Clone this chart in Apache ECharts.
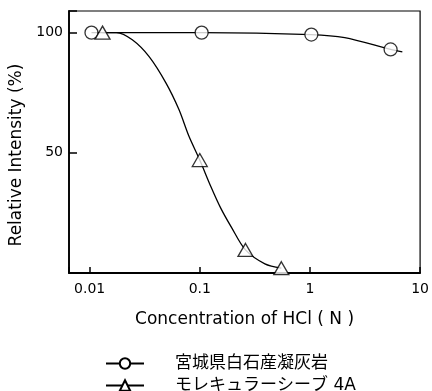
<!DOCTYPE html>
<html>
<head>
<meta charset="utf-8">
<script src="https://cdn.jsdelivr.net/npm/echarts@6/dist/echarts.min.js"></script>
<style>
  html, body { margin: 0; padding: 0; background: #fff; }
  #chart { width: 432px; height: 391px; }
</style>
</head>
<body>
<div id="chart"></div>
<script>
  // 測定点 (HCl 濃度 N, 相対強度 %)
  var tuffName = '宮城県白石産凝灰岩'
  var sieveName = 'モレキュラーシーブ 4A'
  var tuffPoints = [[0.0104, 100], [0.104, 100], [1.03, 99.2], [5.4, 93]]
  var sievePoints = [[0.0131, 100], [0.1, 47], [0.26, 9.6], [0.55, 2]]
  // 図から読んだ曲線
  var tuffCurve = [[0.0104, 100], [0.104, 100], [1.03, 99.2], [2.07, 97.9], [5.4, 93], [6.9, 92]]
  var sieveCurve = [[0.0131, 100], [0.0175, 100], [0.0244, 97], [0.0347, 90], [0.0494, 79],
    [0.0647, 68], [0.0796, 57], [0.1, 47], [0.126, 36], [0.155, 27], [0.194, 19],
    [0.26, 9.6], [0.39, 3.8], [0.55, 2]]
  var xTickLabels = ['0.01', '0.1', '1', '10']
  var yTickLabels = [50, 100]

  var font = "'DejaVu Sans', 'Noto Sans CJK JP', sans-serif"
  var markerStyle = { color: '#fff', borderColor: '#000', borderWidth: 1.3 }

  function legendBox(name, top) {
    return {
      data: [name],
      orient: 'vertical',
      left: 100,
      top: top,
      itemWidth: 38,
      itemHeight: 13,
      textStyle: { fontSize: 17, color: '#000', padding: [0, 0, 0, 26] }
    }
  }

  var chart = echarts.init(document.getElementById('chart'))
  chart.setOption({
    animation: false,
    textStyle: { fontFamily: font, color: '#000' },
    grid: {
      left: 69, right: 8, top: 11, bottom: 118,
      show: true, borderColor: '#000', borderWidth: 1.2
    },
    legend: [legendBox(tuffName, 350), legendBox(sieveName, 372)],
    xAxis: {
      type: 'log',
      logBase: 10,
      min: 0.0065,
      max: 10,
      name: 'Concentration of HCl ( N )',
      nameLocation: 'middle',
      nameGap: 38,
      nameTextStyle: { fontSize: 17, color: '#000' },
      axisLine: { lineStyle: { color: '#000', width: 1.8 } },
      axisTick: { inside: true, length: 6, lineStyle: { color: '#000', width: 1.5 } },
      splitLine: { show: false },
      axisLabel: {
        fontSize: 14, color: '#000', margin: 9,
        formatter: function (v) {
          var l = Math.log10(v)
          if (Math.abs(l - Math.round(l)) > 1e-6) return ''
          return xTickLabels[Math.round(l) + 2] || ''
        }
      }
    },
    yAxis: {
      type: 'value',
      min: 0,
      max: 109,
      interval: 50,
      name: 'Relative Intensity (%)',
      nameLocation: 'middle',
      nameGap: 40,
      nameTextStyle: { fontSize: 17, color: '#000', padding: [0, 0, 0, -26] },
      axisLine: { lineStyle: { color: '#000', width: 1.8 } },
      axisTick: { inside: true, length: 8, lineStyle: { color: '#000', width: 1.5 } },
      splitLine: { show: false },
      axisLabel: {
        fontSize: 14, color: '#000', margin: 6,
        formatter: function (v) {
          return yTickLabels.indexOf(v) >= 0 ? String(v) : ''
        }
      }
    },
    series: [
      {
        name: tuffName,
        type: 'line',
        data: tuffCurve,
        smooth: 0.3,
        symbol: 'circle',
        symbolSize: 12,
        showSymbol: false,
        lineStyle: { color: '#000', width: 1.3 },
        itemStyle: markerStyle,
        z: 2
      },
      {
        name: sieveName,
        type: 'line',
        data: sieveCurve,
        smooth: 0.3,
        symbol: 'triangle',
        symbolSize: 13,
        showSymbol: false,
        lineStyle: { color: '#000', width: 1.3 },
        itemStyle: markerStyle,
        z: 2
      },
      {
        name: 'tuff-pts',
        type: 'scatter',
        data: tuffPoints,
        symbol: 'circle',
        symbolSize: 13,
        itemStyle: markerStyle,
        z: 3
      },
      {
        name: 'sieve-pts',
        type: 'scatter',
        data: sievePoints,
        symbol: 'triangle',
        symbolSize: [15, 13],
        itemStyle: markerStyle,
        z: 3
      }
    ]
  })
</script>
</body>
</html>
